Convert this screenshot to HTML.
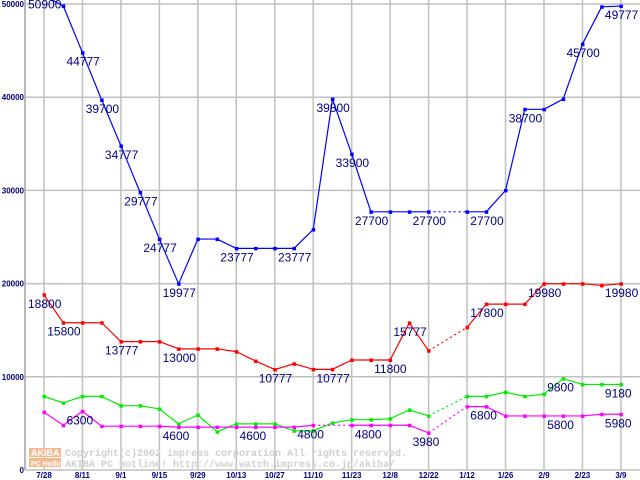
<!DOCTYPE html>
<html><head><meta charset="utf-8"><style>
html,body{margin:0;padding:0;background:#fff;}
svg{display:block;font-family:"Liberation Sans",sans-serif;}
</style></head><body>
<svg id="chart" width="640" height="480" viewBox="0 0 640 480">
  <rect x="0" y="0" width="640" height="480" fill="#fff"/>
  <g id="grid"></g>
  <g id="wm">
    <rect x="29" y="448" width="32" height="9" fill="#f4b890"/>
    <rect x="29" y="458" width="32" height="9" fill="#f4b890"/>
    <text x="31" y="456" font-size="9" font-weight="bold" fill="#fff">AKIBA</text>
    <text x="31" y="466" font-size="7" font-weight="bold" fill="#fff">PC Hotline!</text>
    <text x="65" y="456" font-size="10" font-family="Liberation Mono, monospace" font-weight="bold" fill="#d0d0d0">Copyright(c)2002 impress corporation All rights reserved.</text>
    <text x="65" y="467" font-size="10" font-family="Liberation Mono, monospace" font-weight="bold" fill="#d0d0d0">AKIBA PC Hotline!  http://www.watch.impress.co.jp/akiba/</text>
  </g>
  <g id="series"></g>
  <g id="labels"></g>
  <g id="axes"></g>
</svg>
<script>
const xLabels = ["7/28","8/11","9/1","9/15","9/29","10/13","10/27","11/10","11/23","12/8","12/22","1/12","1/26","2/9","2/23","3/9"];
const yTicks = [0,10000,20000,30000,40000,50000];
const blueValues = [50900,49800,44777,39700,34777,29777,24777,19977,24777,24777,23777,23777,23777,23777,25800,39800,33900,27700,27700,27700,27700,null,27700,27700,30000,38700,38700,39800,45700,49700,49777];
const redValues = [18800,15800,15800,15800,13777,13777,13777,13000,13000,13000,12700,11700,10777,11400,10800,10800,11800,11800,11800,15777,12800,null,15300,17800,17800,17800,19980,19980,19980,19800,19980];
const greenValues = [7900,7200,7900,7900,6900,6900,6550,4950,5900,4100,4950,4950,4950,4200,4200,5050,5400,5400,5500,6450,5800,null,7900,7900,8350,7900,8150,9800,9180,9180,9180];
const magentaValues = [6200,4800,6300,4700,4700,4700,4700,4600,4600,4600,4600,4600,4600,4600,4800,null,4800,4800,4800,4800,3980,null,6800,6800,5800,5800,5800,5800,5800,5980,5980];
const blueLabels = [[0,"50900"],[2,"44777"],[3,"39700"],[4,"34777"],[5,"29777"],[6,"24777"],[7,"19977"],[10,"23777"],[13,"23777"],[15,"39800"],[16,"33900"],[17,"27700"],[20,"27700"],[23,"27700"],[25,"38700"],[28,"45700"],[30,"49777"]];
const redLabels = [[0,"18800"],[1,"15800"],[4,"13777"],[7,"13000"],[12,"10777"],[15,"10777"],[18,"11800"],[19,"15777"],[23,"17800"],[26,"19980"],[30,"19980"]];
const greenLabels = [[27,"9800"],[30,"9180"]];
const magentaLabels = [[2,"6300"],[7,"4600"],[11,"4600"],[14,"4800"],[17,"4800"],[20,"3980"],[23,"6800"],[27,"5800"],[30,"5980"]];

const NS="http://www.w3.org/2000/svg";
const X0=44, DX=19.23, Y0=470, YS=0.00932;
function xs(i){return X0+i*DX;}
function ys(v){return Y0-v*YS;}
function mk(tag,attrs,parent){const e=document.createElementNS(NS,tag);for(const k in attrs)e.setAttribute(k,attrs[k]);parent.appendChild(e);return e;}

const grid=document.getElementById('grid');
yTicks.forEach(t=>{
  const l=mk('line',{x1:25,x2:640,y1:ys(t),y2:ys(t),stroke:'#c0c0c0','stroke-width':1.5},grid);
  
  
});
xLabels.forEach((lab,k)=>{
  const x=xs(k*2);
  const l=mk('line',{x1:x,x2:x,y1:0,y2:470,stroke:'#c0c0c0','stroke-width':1.5},grid);
  
  
});
const axes=document.getElementById('axes');
const ya=mk('line',{x1:25,x2:25,y1:0,y2:470,stroke:'#a0a0a0','stroke-width':1.5},axes);


yTicks.forEach(t=>{
  const tx=mk('text',{x:24,y:ys(t)+3,'font-size':8,'font-weight':'bold',fill:'#000080','text-anchor':'end'},axes);
  tx.textContent=String(t);
  
  
});
xLabels.forEach((lab,k)=>{
  const tx=mk('text',{x:xs(k*2),y:478,'font-size':8,'font-weight':'bold',fill:'#000080','text-anchor':'middle'},axes);
  tx.textContent=lab;
  
  
});

const series=document.getElementById('series');
const clip=mk('clipPath',{id:'pc'},series);
mk('rect',{x:25,y:0,width:615,height:470},clip);
function drawSeries(vals,color,name){
  const g=mk('g',{'clip-path':'url(#pc)'},series);
  
  
  let prev=-1;
  for(let i=0;i<vals.length;i++){
    if(vals[i]==null)continue;
    if(prev>=0){
      const dotted=(i-prev)>1;
      const s=mk('line',{x1:xs(prev),y1:ys(vals[prev]),x2:xs(i),y2:ys(vals[i]),stroke:color,'stroke-width':1.2},g);
      if(dotted)s.setAttribute('stroke-dasharray','2,3');
      
      
    }
    prev=i;
  }
  vals.forEach((v,i)=>{
    if(v==null)return;
    const r=mk('rect',{x:xs(i)-1.5,y:ys(v)-1.5,width:3.5,height:3.5,fill:color},g);
    
    
  });
}
drawSeries(greenValues,'#00ee00','green');
drawSeries(magentaValues,'#ff00ff','magenta');
drawSeries(redValues,'#ff0000','red');
drawSeries(blueValues,'#0000ff','blue');

const labels=document.getElementById('labels');
function drawLabels(list,vals,name){
  list.forEach(([i,txt])=>{
    const t=mk('text',{x:xs(i)-16,y:ys(vals[i])+13,'font-size':12,fill:'#000080'},labels);
    t.textContent=txt;
    
    
  });
}
drawLabels(blueLabels,blueValues,'blue');
drawLabels(redLabels,redValues,'red');
drawLabels(greenLabels,greenValues,'green');
drawLabels(magentaLabels,magentaValues,'magenta');
</script>
</body></html>
